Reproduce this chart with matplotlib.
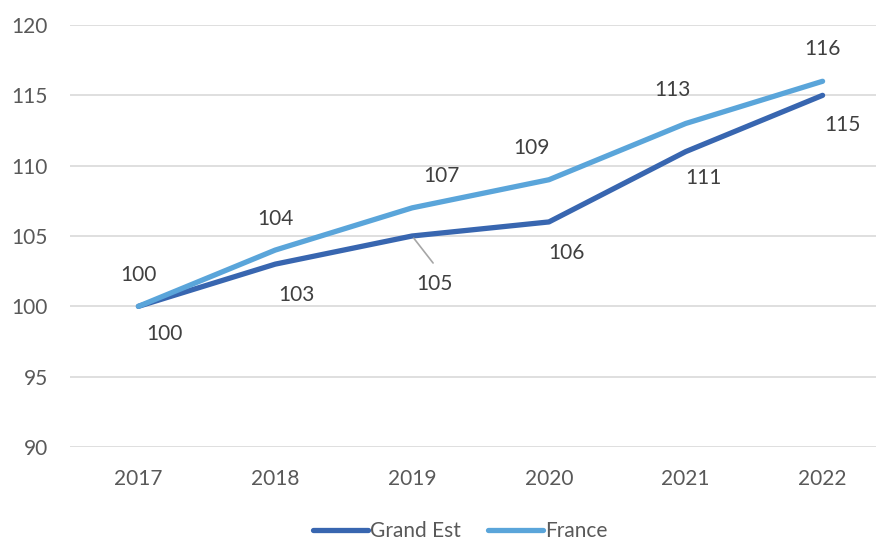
import matplotlib.pyplot as plt

years = ["2017", "2018", "2019", "2020", "2021", "2022"]
grand_est = [100, 103, 105, 106, 111, 115]
france = [100, 104, 107, 109, 113, 116]

# label offsets in pixels (dx, dy) relative to each point
ge_offsets = [(26, -28), (21, -31), (22, -48), (18, -31), (18, -26), (20, -30)]
fr_offsets = [(0, 31), (0, 31), (29, 32), (-17, 32), (-13, 33), (0, 32)]

GE_COLOR = "#3866B0"
FR_COLOR = "#5AA5DA"
TEXT = "#595959"

plt.rcParams['font.family'] = ['Lato', 'DejaVu Sans']

fig = plt.figure(figsize=(8.76, 5.42), dpi=100)
ax = fig.add_axes([70 / 876, 95 / 542, (891 - 70) / 876, (447 - 25) / 542])

x = list(range(len(years)))
ax.plot(x, grand_est, color=GE_COLOR, linewidth=3.8, label="Grand Est", solid_capstyle='round')
ax.plot(x, france, color=FR_COLOR, linewidth=3.8, label="France", solid_capstyle='round')

for i, v in enumerate(france):
    ax.annotate(str(v), (i, v), xytext=fr_offsets[i], textcoords='offset pixels',
                ha='center', va='center', fontsize=15, color="#404040")
for i, v in enumerate(grand_est):
    ax.annotate(str(v), (i, v), xytext=ge_offsets[i], textcoords='offset pixels',
                ha='center', va='center', fontsize=15, color="#404040")

# leader line for the 2019 Grand Est label
ax.annotate("", (2, grand_est[2]), xytext=(21, -27), textcoords='offset pixels',
            arrowprops=dict(arrowstyle='-', color="#A6A6A6", lw=1.2, shrinkA=0, shrinkB=2))

ax.set_xlim(-0.5, 5.5)
ax.set_ylim(90, 120)
ax.set_yticks(range(90, 121, 5))
ax.set_xticks(x)
ax.set_xticklabels(years)
ax.grid(axis='y', color="#D9D9D9", linewidth=1.2)
ax.set_axisbelow(True)
for s in ax.spines.values():
    s.set_visible(False)
ax.tick_params(length=0, colors=TEXT, labelsize=15)
ax.tick_params(axis='y', pad=16)
ax.tick_params(axis='x', pad=16)

leg = fig.legend(loc='center', bbox_to_anchor=(460 / 876, 1 - 531 / 542), ncol=2, frameon=False,
                 fontsize=15, handlelength=2.65, handletextpad=0.1, columnspacing=1.3)
for t in leg.get_texts():
    t.set_color(TEXT)

fig.savefig("out.png", dpi=100)
